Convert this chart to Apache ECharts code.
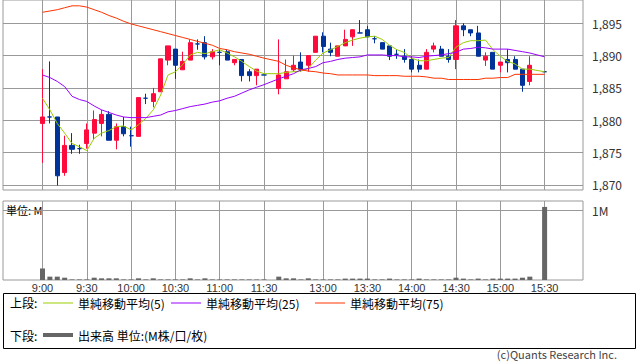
<!DOCTYPE html>
<html>
<head>
<meta charset="utf-8">
<script src="https://cdn.jsdelivr.net/npm/echarts@6/dist/echarts.min.js"></script>
<style>
html,body{margin:0;padding:0;background:#fff;}
#chart{width:638px;height:362px;}
</style>
</head>
<body>
<div id="chart"></div>
<script>
// ---- data ----
const times = ['9:00','9:05','9:10','9:15','9:20','9:25','9:30','9:35','9:40','9:45','9:50','9:55',
  '10:00','10:05','10:10','10:15','10:20','10:25','10:30','10:35','10:40','10:45','10:50','10:55',
  '11:00','11:05','11:10','11:15','11:20','11:25','11:30',
  '12:30','12:35','12:40','12:45','12:50','12:55','13:00','13:05','13:10','13:15','13:20','13:25',
  '13:30','13:35','13:40','13:45','13:50','13:55','14:00','14:05','14:10','14:15','14:20','14:25',
  '14:30','14:35','14:40','14:45','14:50','14:55','15:00','15:05','15:10','15:15','15:20','15:30'];
const opens = [1879.5,1880.5,1880.5,1871.9,1876.1,1875.6,1876.4,1878.0,1879.5,1880.9,1876.9,1879.0,
  1877.6,1877.5,1883.4,1882.9,1884.4,1889.3,1891.0,1887.8,1889.3,1891.8,1892.0,1889.8,
  1890.5,1890.6,1888.9,1889.4,1887.5,1886.9,1887.0,
  1884.9,1886.4,1887.8,1889.0,1888.5,1890.5,1893.0,1891.0,1889.9,1891.5,1892.9,1893.5,
  1894.0,1892.6,1892.0,1891.5,1890.2,1889.9,1889.4,1888.5,1887.9,1891.0,1891.0,1889.9,
  1889.4,1894.6,1894.0,1893.5,1889.3,1890.5,1888.5,1889.4,1889.4,1887.9,1886.0,1887.5];
const closes = [1880.5,1880.5,1871.4,1876.1,1875.5,1875.6,1878.5,1880.1,1880.9,1876.9,1879.0,1877.9,
  1877.6,1883.5,1883.4,1884.1,1889.5,1891.5,1888.5,1889.1,1892.0,1891.8,1889.8,1890.6,
  1890.5,1889.3,1889.4,1886.9,1886.9,1887.9,1887.0,
  1887.0,1887.5,1888.5,1887.9,1890.0,1893.0,1891.4,1890.5,1891.5,1892.5,1894.0,1893.5,
  1892.9,1892.6,1891.0,1889.9,1890.2,1889.4,1887.9,1887.9,1890.5,1891.5,1889.9,1889.4,
  1894.6,1894.0,1893.5,1889.9,1889.9,1887.9,1889.0,1888.9,1887.9,1885.4,1888.5,1887.5];
const lows = [1873.4,1879.5,1869.9,1871.4,1874.8,1874.8,1875.6,1877.0,1877.5,1876.9,1875.5,1877.5,
  1875.9,1877.5,1882.5,1882.0,1884.4,1888.5,1886.4,1887.8,1889.3,1890.9,1889.4,1889.4,
  1888.5,1889.3,1888.5,1886.0,1886.0,1885.4,1887.0,
  1884.0,1886.4,1887.5,1887.5,1887.5,1890.5,1890.5,1889.9,1889.9,1891.5,1891.5,1893.5,
  1892.9,1891.9,1891.0,1889.3,1889.5,1888.9,1887.4,1887.4,1887.9,1890.5,1889.9,1888.9,
  1887.9,1893.0,1893.0,1889.9,1888.4,1887.9,1887.4,1887.4,1887.9,1884.4,1885.4,1887.5];
const highs = [1887.9,1889.1,1880.5,1877.6,1878.0,1876.2,1879.5,1881.5,1881.6,1881.4,1879.5,1880.5,
  1879.0,1883.5,1884.1,1885.0,1889.5,1891.5,1891.0,1890.6,1892.5,1892.5,1893.0,1891.0,
  1891.0,1891.0,1889.4,1889.4,1887.9,1887.9,1887.0,
  1892.5,1889.4,1890.0,1890.5,1890.0,1893.0,1893.6,1892.0,1891.5,1894.0,1894.0,1895.5,
  1894.6,1893.0,1892.0,1891.5,1891.0,1891.0,1889.9,1889.4,1891.0,1892.0,1891.5,1891.0,
  1895.5,1895.0,1894.0,1894.6,1890.5,1890.5,1889.0,1891.0,1889.9,1887.9,1889.9,1887.5];
const volumes = [0.165,0.048,0.048,0.033,0.008,0.008,0.008,0.033,0.024,0.024,0.024,0.008,
  0.008,0.024,0.008,0.024,0.008,0.008,0.008,0.008,0.024,0.008,0.024,0.008,
  0.008,0.008,0.008,0.008,0.008,0.008,0.008,
  0.048,0.024,0.024,0.008,0.024,0.008,0.008,0.008,0.008,0.02,0.02,0.02,
  0.02,0.008,0.008,0.02,0.008,0.008,0.008,0.02,0.008,0.008,0.008,0.008,
  0.033,0.02,0.008,0.02,0.008,0.02,0.02,0.02,0.02,0.033,0.048,1.046];
const ma5 = [1883.4,1881.6,1879.5,1878.0,1876.4,1875.9,1875.3,1877.2,1878.0,1878.4,1879.0,1879.1,
  1878.5,1879.3,1880.3,1881.6,1883.9,1887.0,1887.5,1888.6,1890.1,1890.5,1890.3,1890.6,
  1890.9,1890.4,1889.8,1889.1,1888.3,1887.6,1887.2,
  1887.2,1887.4,1887.5,1887.6,1888.0,1889.3,1890.4,1890.9,1891.4,1892.0,1892.4,1892.7,
  1892.9,1893.0,1892.5,1891.6,1890.9,1890.5,1889.6,1889.2,1889.2,1889.4,1889.6,1889.7,
  1891.3,1892.0,1892.3,1892.3,1892.4,1890.9,1889.9,1889.1,1888.7,1887.9,1887.9,1887.5];
const ma25 = [1887.0,1886.6,1886.0,1885.2,1883.7,1883.2,1882.9,1882.2,1881.6,1881.2,1880.8,1880.5,
  1880.4,1880.4,1880.4,1880.6,1880.8,1881.3,1881.5,1881.8,1882.1,1882.3,1882.5,1882.8,
  1883.0,1883.4,1883.7,1884.2,1884.7,1885.1,1885.5,
  1886.4,1886.8,1887.2,1887.8,1888.0,1888.3,1888.9,1889.1,1889.4,1889.6,1889.7,1889.8,
  1890.1,1890.1,1890.1,1890.0,1890.0,1889.8,1889.8,1889.7,1889.9,1890.0,1890.1,1890.3,
  1890.5,1891.0,1891.1,1891.3,1891.2,1891.0,1891.0,1891.0,1890.8,1890.6,1890.4,1889.8];
const ma75 = [1896.7,1896.9,1897.1,1897.4,1897.7,1897.7,1897.5,1897.1,1896.7,1896.2,1895.8,1895.3,
  1894.9,1894.6,1894.3,1894.0,1893.7,1893.4,1893.1,1892.8,1892.5,1892.2,1891.9,1891.6,
  1891.1,1890.9,1890.6,1890.4,1890.2,1889.9,1889.6,
  1889.1,1888.5,1888.1,1887.8,1887.6,1887.5,1887.3,1887.2,1887.0,1887.0,1887.0,1887.0,
  1887.0,1886.9,1886.9,1886.9,1886.9,1886.8,1886.8,1886.8,1886.7,1886.5,1886.5,1886.3,
  1886.3,1886.3,1886.3,1886.3,1886.5,1886.5,1886.6,1886.6,1887.1,1887.1,1887.1,1887.1];
const tickTimes = ['9:00','9:30','10:00','10:30','11:00','11:30','13:00','13:30','14:00','14:30','15:00','15:30'];
const priceTicks = [1870,1875,1880,1885,1890,1895];
const volumeTicks = [1];

// ---- helpers ----
// x position on the compressed intraday axis (5-min slots, lunch break folded)
function slotOf(t){
  const p = t.split(':').map(Number);
  const mins = p[0]*60 + p[1];
  return mins <= 690 ? (mins - 540)/5 : 32 + (mins - 750)/5;
}
const tickSlots = tickTimes.map(slotOf);
const slotLabel = {};
tickTimes.forEach(t => { slotLabel[slotOf(t)] = t; });
const fmtComma = v => String(v).replace(/\B(?=(\d{3})+(?!\d))/g, ',');

const FONT = '"Noto Sans CJK JP", "Noto Sans", sans-serif';
const NUMFONT = '"Liberation Sans", Arial, sans-serif';
const GRID_C = '#999999';
const UP = '#ff0a3c', DOWN = '#003399';
const XMIN = -5.35, XMAX = 73.2;

const chart = echarts.init(document.getElementById('chart'), null, {renderer: 'svg'});

const pair = arr => times.map((t, i) => [slotOf(t), arr[i]]);
const legendText = {fontSize: 12, lineHeight: 12, color: '#000', fontFamily: FONT};

const option = {
  backgroundColor: '#ffffff',
  animation: false,
  textStyle: {fontFamily: FONT},
  grid: [
    {left: 3, top: 0, width: 580, height: 190, show: true, borderColor: GRID_C, borderWidth: 1},
    {left: 3, top: 201, width: 580, height: 79, show: true, borderColor: GRID_C, borderWidth: 1}
  ],
  xAxis: [
    {type: 'value', gridIndex: 0, min: XMIN, max: XMAX,
     axisLine: {show: false}, axisTick: {show: false, customValues: tickSlots},
     axisLabel: {show: false, customValues: tickSlots},
     splitLine: {show: true, lineStyle: {color: GRID_C, width: 1}}},
    {type: 'value', gridIndex: 1, min: XMIN, max: XMAX,
     axisLine: {show: false}, axisTick: {show: false, customValues: tickSlots},
     axisLabel: {show: true, customValues: tickSlots, formatter: v => slotLabel[v] || '',
       fontSize: 11, lineHeight: 11, color: '#333', margin: 2, fontFamily: NUMFONT},
     splitLine: {show: true, lineStyle: {color: GRID_C, width: 1}}}
  ],
  yAxis: [
    {type: 'value', gridIndex: 0, position: 'right', min: 1869.2, max: 1898.6, scale: true,
     axisLine: {show: false},
     axisTick: {show: true, length: 5, lineStyle: {color: GRID_C}, customValues: priceTicks},
     axisLabel: {customValues: priceTicks, formatter: fmtComma, fontSize: 12, color: '#333', margin: 9, fontFamily: FONT},
     splitLine: {show: true, lineStyle: {color: GRID_C, width: 1}}},
    {type: 'value', gridIndex: 1, position: 'right', min: 0, max: 1.131,
     axisLine: {show: false},
     axisTick: {show: true, length: 5, lineStyle: {color: GRID_C}, customValues: volumeTicks},
     axisLabel: {customValues: volumeTicks, formatter: v => v + 'M', fontSize: 12, color: '#333', margin: 9, fontFamily: FONT},
     splitLine: {show: true, lineStyle: {color: GRID_C, width: 1}}}
  ],
  legend: [
    {data: [{name: '単純移動平均(5)', icon: 'rect'}], left: 43, top: 297, padding: 0, itemWidth: 30, itemHeight: 1,
     selectedMode: false, textStyle: legendText},
    {data: [{name: '単純移動平均(25)', icon: 'rect'}], left: 171, top: 297, padding: 0, itemWidth: 30, itemHeight: 1,
     selectedMode: false, textStyle: legendText},
    {data: [{name: '単純移動平均(75)', icon: 'rect'}], left: 315, top: 297, padding: 0, itemWidth: 30, itemHeight: 1,
     selectedMode: false, textStyle: legendText},
    {data: [{name: '出来高 単位:(M株/口/枚)', icon: 'rect'}], left: 43, top: 329, padding: 0, itemWidth: 30, itemHeight: 4,
     selectedMode: false, textStyle: legendText}
  ],
  series: [
    {name: '単純移動平均(5)', type: 'line', xAxisIndex: 0, yAxisIndex: 0, data: pair(ma5),
     symbol: 'none', lineStyle: {color: '#99cc00', width: 1}, itemStyle: {color: '#99cc00'}},
    {name: '単純移動平均(25)', type: 'line', xAxisIndex: 0, yAxisIndex: 0, data: pair(ma25),
     symbol: 'none', lineStyle: {color: '#9900ff', width: 1}, itemStyle: {color: '#9900ff'}},
    {name: '単純移動平均(75)', type: 'line', xAxisIndex: 0, yAxisIndex: 0, data: pair(ma75),
     symbol: 'none', lineStyle: {color: '#ff3300', width: 1}, itemStyle: {color: '#ff3300'}},
    {name: '株価', type: 'candlestick', xAxisIndex: 0, yAxisIndex: 0,
     data: times.map((t, i) => [slotOf(t), opens[i], closes[i], lows[i], highs[i]]),
     encode: {x: 0, y: [1, 2, 3, 4]},
     barWidth: 4.6,
     itemStyle: {color: UP, color0: DOWN, borderColor: UP, borderColor0: DOWN, borderColorDoji: DOWN, borderWidth: 1}},
    {name: '出来高 単位:(M株/口/枚)', type: 'bar', xAxisIndex: 1, yAxisIndex: 1,
     data: pair(volumes), barWidth: 5, itemStyle: {color: '#666666'}}
  ],
  graphic: [
    {type: 'rect', shape: {x: 3.5, y: 293.5, width: 632, height: 55}, style: {fill: 'none', stroke: '#000', lineWidth: 1}, silent: true},
    {type: 'text', x: 10, y: 302.5, style: {text: '上段:', fontSize: 12, fontFamily: FONT, fill: '#000', verticalAlign: 'middle'}},
    {type: 'text', x: 10, y: 335, style: {text: '下段:', fontSize: 12, fontFamily: FONT, fill: '#000', verticalAlign: 'middle'}},
    {type: 'text', x: 6, y: 209.5, style: {text: '単位: M', fontSize: 11, fontFamily: FONT, fill: '#000', verticalAlign: 'middle'}},
    {type: 'text', x: 617, y: 354, style: {text: '(c)Quants Research Inc.', fontSize: 11, fontFamily: FONT, fill: '#444', align: 'right', verticalAlign: 'middle'}}
  ]
};
chart.setOption(option);
</script>
</body>
</html>
